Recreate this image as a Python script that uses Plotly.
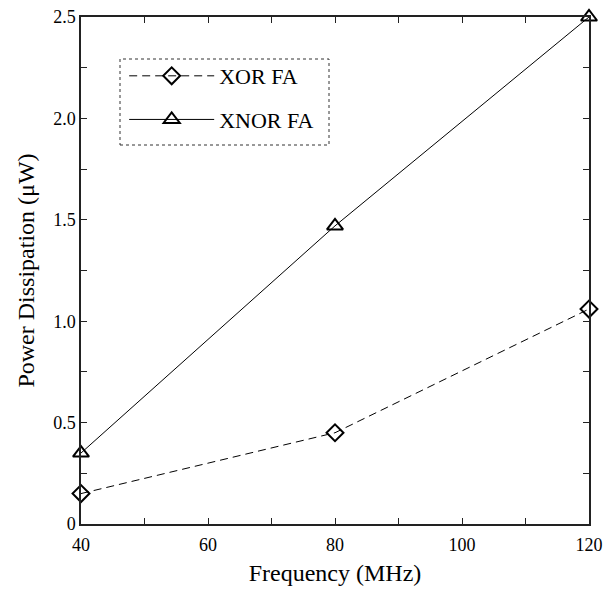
import plotly.graph_objects as go

freq = [40, 80, 120]
xor_fa = [0.15, 0.45, 1.06]
xnor_fa = [0.35, 1.47, 2.50]

x_tickvals = [40, 50, 60, 70, 80, 90, 100, 110, 120]
x_ticktext = ["40", "", "60", "", "80", "", "100", "", "120"]
y_tickvals = [0, 0.25, 0.5, 0.75, 1.0, 1.25, 1.5, 1.75, 2.0, 2.25, 2.5]
y_ticktext = ["0", "", "0.5", "", "1.0", "", "1.5", "", "2.0", "", "2.5"]

FONT = "Liberation Serif"

fig = go.Figure()
fig.add_trace(go.Scatter(
    x=freq, y=xor_fa, name="XOR FA", mode="lines+markers", legendgroup="a",
    line=dict(color="black", width=1, dash="8px,5px"),
    marker=dict(symbol="diamond-open", size=13, color="black", line=dict(width=2, color="black")),
    cliponaxis=False,
))
fig.add_trace(go.Scatter(
    x=freq, y=xnor_fa, name="XNOR FA", mode="lines+markers", legendgroup="b",
    line=dict(color="black", width=1),
    marker=dict(symbol="triangle-up-open", size=14, color="black", line=dict(width=2, color="black")),
    cliponaxis=False,
))

axis_common = dict(
    showgrid=False, zeroline=False, showline=True, linecolor="#222", linewidth=1.5,
    mirror="ticks", ticks="inside", ticklen=6, tickwidth=1.2, tickcolor="#222",
    tickfont=dict(family=FONT, size=18, color="black"), automargin=False,
)

fig.update_xaxes(
    range=[40, 120], tickmode="array", tickvals=x_tickvals, ticktext=x_ticktext,
    title=dict(text="Frequency (MHz)", font=dict(family=FONT, size=24, color="black"), standoff=10),
    ticklabelstandoff=4,
    **axis_common,
)
fig.update_yaxes(
    range=[0, 2.5], tickmode="array", tickvals=y_tickvals, ticktext=y_ticktext,
    title=dict(text="Power Dissipation (μW)", font=dict(family=FONT, size=24, color="black"), standoff=12),
    **axis_common,
)

fig.update_layout(
    width=605, height=594,
    margin=dict(l=81, r=16, t=17, b=70),
    plot_bgcolor="white", paper_bgcolor="white",
    font=dict(family=FONT, color="black"),
    showlegend=True,
    legend=dict(
        x=0.085, y=0.925, xanchor="left", yanchor="top",
        bgcolor="rgba(0,0,0,0)", borderwidth=0,
        font=dict(family=FONT, size=22, color="black"),
        itemwidth=85, tracegroupgap=12,
    ),
    shapes=[dict(
        type="rect", xref="paper", yref="paper",
        x0=(120 - 81) / 508, x1=(329 - 81) / 508,
        y0=(524 - 145) / 507, y1=(524 - 59) / 507,
        line=dict(color="#333", width=1, dash="dot"),
    )],
)

fig.write_html(
    "out.html",
    config={"displayModeBar": False},
    post_script="document.body.style.margin='0';document.body.style.padding='0';",
)
